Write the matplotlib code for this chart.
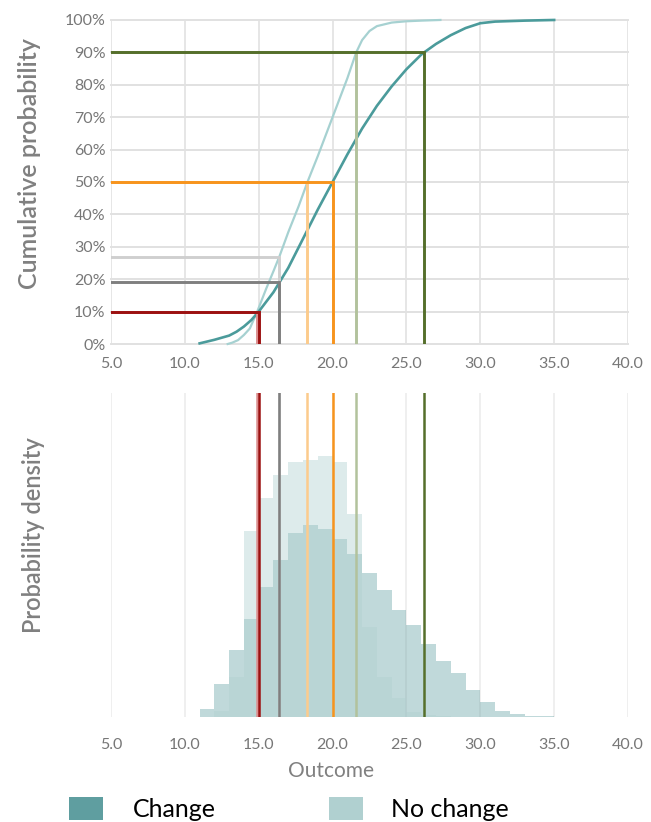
import numpy as np
import matplotlib
matplotlib.use("Agg")
import matplotlib.pyplot as plt
from matplotlib.patches import Rectangle

plt.rcParams['font.family'] = ['Lato', 'DejaVu Sans']

# cumulative curves (outcome, %)
cdf_change_x = [11.0, 12.0, 13.0, 13.5, 14.0, 14.5, 15.0, 16.0, 16.4, 17.0, 18.0, 19.0, 20.0,
                21.0, 22.0, 23.0, 24.0, 25.0, 26.0, 26.2, 27.0, 28.0, 29.0, 30.0, 31.0, 33.0, 35.0]
cdf_change_p = [0.2, 1.3, 2.6, 3.8, 5.4, 7.4, 10.0, 16.0, 19.0, 23.5, 32.5, 41.5, 50.0,
                58.5, 66.5, 73.5, 79.5, 84.8, 89.3, 90.0, 92.6, 95.3, 97.5, 99.0, 99.5, 99.8, 100.0]
cdf_nochange_x = [12.9, 13.2, 13.6, 14.0, 14.4, 14.9, 15.5, 16.0, 16.4, 17.0, 17.7, 18.3, 19.0,
                  20.0, 21.0, 21.6, 22.0, 22.5, 23.0, 24.0, 25.0, 26.0, 27.3]
cdf_nochange_p = [0.0, 0.4, 1.2, 2.8, 4.8, 10.0, 17.0, 22.5, 27.0, 34.5, 42.5, 50.0, 58.0,
                  70.0, 82.0, 90.0, 93.8, 96.6, 98.1, 99.2, 99.6, 99.8, 100.0]

# histograms (density, % per unit of outcome)
edges_change = np.arange(11, 36, 1)
dens_change = [0.4, 1.6, 3.2, 4.7, 6.2, 7.5, 8.8, 9.2, 9.0, 8.5, 7.8, 6.9,
               6.1, 5.1, 4.4, 3.5, 2.7, 2.1, 1.3, 0.7, 0.3, 0.15, 0.07, 0.05]
edges_nochange = np.arange(12, 29, 1)
dens_nochange = [0.3, 1.9, 8.9, 10.5, 11.6, 12.2, 12.3, 12.5, 12.2, 9.7,
                 4.3, 1.9, 0.9, 0.25, 0.1, 0.05]

# marker lines: 10th pct, value 16.4, median, 90th pct
mark_change_x = [15.0, 16.4, 20.0, 26.2]
mark_change_p = [10, 19, 50, 90]
mark_nochange_x = [14.9, 16.4, 18.3, 21.6]
mark_nochange_p = [10, 27, 50, 90]
dark_cols = ['#9c1111', '#7f7f7f', '#f7941d', '#556f2b']
light_cols = ['#dc8f8f', '#cfcfcf', '#fccb8c', '#b2c29c']

teal = '#5f9ea0'
pale = '#b0d0d0'
tick_col = '#777777'
grid_col = '#e1e1e1'

fig = plt.figure(figsize=(6.51, 8.22), dpi=100)
ax1 = fig.add_axes([0.1705, 0.5815, 0.7942, 0.3942])
ax2 = fig.add_axes([0.1705, 0.1277, 0.7942, 0.3942])

# ---- top: cumulative probability
for v in range(5, 41, 5):
    ax1.axvline(v, color=grid_col, lw=1.2, zorder=0)
for p in range(0, 101, 10):
    ax1.axhline(p, color=grid_col, lw=1.4, zorder=0, clip_on=False)

ax1.plot(cdf_nochange_x, cdf_nochange_p, color='#a6d1d1', lw=1.6, zorder=2, clip_on=False,
         solid_joinstyle='round')
ax1.plot(cdf_change_x, cdf_change_p, color='#4b9b9b', lw=1.9, zorder=2, clip_on=False,
         solid_joinstyle='round')

for x, p, c in zip(mark_nochange_x, mark_nochange_p, light_cols):
    ax1.plot([5, x, x], [p, p, 0], color=c, lw=2.1, zorder=3, solid_joinstyle='miter')
for x, p, c in zip(mark_change_x, mark_change_p, dark_cols):
    ax1.plot([5, x, x], [p, p, 0], color=c, lw=2.1, zorder=4, solid_joinstyle='miter')

ax1.set_xlim(5, 40)
ax1.set_ylim(0, 100)
ax1.set_xticks(range(5, 41, 5))
ax1.set_xticklabels([f"{v:.1f}" for v in range(5, 41, 5)])
ax1.set_yticks(range(0, 101, 10))
ax1.set_yticklabels([f"{p}%" for p in range(0, 101, 10)])
ax1.tick_params(axis='x', length=0, pad=9, labelsize=11.5, labelcolor=tick_col)
ax1.tick_params(axis='y', length=0, pad=4, labelsize=11.5, labelcolor=tick_col)
for s in ax1.spines.values():
    s.set_visible(False)

# ---- bottom: probability density
for v in range(5, 41, 5):
    ax2.axvline(v, color='#ececec', lw=1.2, zorder=0)
ax2.stairs(dens_change, edges_change, fill=True, color=teal, alpha=0.39, lw=0, zorder=1)
ax2.stairs(dens_nochange, edges_nochange, fill=True, color=pale, alpha=0.42, lw=0, zorder=2)
for x, c in zip(mark_nochange_x, light_cols):
    ax2.axvline(x, color=c, lw=1.8, zorder=3)
for x, c in zip(mark_change_x, dark_cols):
    ax2.axvline(x, color=c, lw=1.8, zorder=4)

ax2.set_xlim(5, 40)
ax2.set_ylim(0, 15.5)
ax2.set_xticks(range(5, 41, 5))
ax2.set_xticklabels([f"{v:.1f}" for v in range(5, 41, 5)])
ax2.set_yticks([])
ax2.tick_params(axis='x', length=0, pad=15, labelsize=11.5, labelcolor=tick_col)
for s in ax2.spines.values():
    s.set_visible(False)

# ---- labels
fig.text(30 / 651, 1 - 164 / 822, "Cumulative probability", rotation=90, ha='center', va='center',
         fontsize=18, fontweight='semibold', color='#808080')
fig.text(34 / 651, 1 - 535 / 822, "Probability density", rotation=90, ha='center', va='center',
         fontsize=17, fontweight='semibold', color='#808080')
fig.text(331 / 651, 1 - 771 / 822, "Outcome", ha='center', va='center',
         fontsize=15, color='#808080')

# ---- legend
for x0, col, label, tx in [(69, teal, "Change", 133), (329, pale, "No change", 391)]:
    fig.add_artist(Rectangle((x0 / 651, 1 - 820 / 822), 34 / 651, 23 / 822,
                             transform=fig.transFigure, color=col, lw=0))
    fig.text(tx / 651, 1 - 809 / 822, label, ha='left', va='center', fontsize=18, color='black')

fig.savefig("out.png", dpi=100)
